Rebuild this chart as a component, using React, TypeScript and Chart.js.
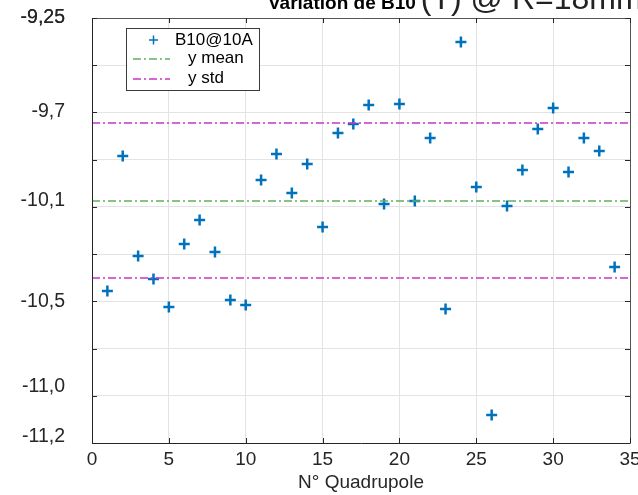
import React, { useEffect, useRef } from "react";
import { Chart, registerables } from "chart.js";

Chart.register(...registerables);

// ---- data ----
const quadrupoles = [1, 2, 3, 4, 5, 6, 7, 8, 9, 10, 11, 12, 13, 14, 15, 16, 17, 18, 19, 20, 21, 22, 23, 24, 25, 26, 27, 28, 29, 30, 31, 32, 33, 34];
const b10Values = [
  -10.503, -9.883, -10.342, -10.448, -10.576, -10.287, -10.177, -10.324, -10.544, -10.567,
  -9.993, -9.874, -10.053, -9.92, -10.209, -9.778, -9.736, -9.649, -10.103, -9.645,
  -10.09, -9.801, -10.585, -9.36, -10.025, -11.072, -10.113, -9.947, -9.759, -9.663,
  -9.957, -9.801, -9.86, -10.392,
];
const yMean = -10.09;
const yStdUpper = -9.732;
const yStdLower = -10.443;

const xMin = 0;
const xMax = 35;
const xTickValues = [0, 5, 10, 15, 20, 25, 30, 35];

const yMin = -11.2;
const yMax = -9.25;
const yGridValues = [-9.25, -9.4667, -9.6833, -9.9, -10.1167, -10.3333, -10.55, -10.7667, -10.9833, -11.2];
const yLabelValues = [-9.25, -9.681, -10.09, -10.553, -10.943, -11.172];
const yLabelTexts = ["-9,25", "-9,7", "-10,1", "-10,5", "-11,0", "-11,2"];

const seriesLabel = "B10@10A";
const meanLabel = "y mean";
const stdLabel = "y std";
const titleBold = "Variation de B10";
const titleNormal = "(T) @ R=18mm";
const xTitle = "N° Quadrupole";

const BLUE = "#0072BD";
const GREEN = "#5fb05f";
const MAGENTA = "#cc33cc";
const FONT = "'Liberation Sans', Arial, Helvetica, sans-serif";
const DASHDOT = [8, 3, 2, 3];

const near = (a: number, b: number) => Math.abs(a - b) < 1e-6;
const isGrid = (v: number) => yGridValues.some((g) => near(g, v));

const framePlugin = {
  id: "frame",
  afterDatasetsDraw(chart: any) {
    const ctx = chart.ctx;
    const { left, right, top, bottom } = chart.chartArea;
    const xs = chart.scales.x;
    const ys = chart.scales.y;
    ctx.save();
    ctx.strokeStyle = "#262626";
    ctx.lineWidth = 1;
    ctx.beginPath();
    ctx.moveTo(Math.round(left) + 0.5, Math.round(top) + 0.5);
    ctx.lineTo(Math.round(left) + 0.5, Math.round(bottom) + 0.5);
    ctx.lineTo(Math.round(right) + 0.5, Math.round(bottom) + 0.5);
    ctx.stroke();
    ctx.strokeStyle = "#555555";
    ctx.beginPath();
    ctx.moveTo(Math.round(left) + 0.5, Math.round(top) + 0.5);
    ctx.lineTo(Math.round(right) + 0.5, Math.round(top) + 0.5);
    ctx.lineTo(Math.round(right) + 0.5, Math.round(bottom) + 0.5);
    ctx.stroke();
    const tl = 5;
    ctx.strokeStyle = "#262626";
    ctx.beginPath();
    xTickValues.forEach((v) => {
      const px = Math.round(xs.getPixelForValue(v)) + 0.5;
      ctx.moveTo(px, bottom);
      ctx.lineTo(px, bottom - tl);
      ctx.moveTo(px, top);
      ctx.lineTo(px, top + tl);
    });
    yGridValues.forEach((v) => {
      const py = Math.round(ys.getPixelForValue(v)) + 0.5;
      ctx.moveTo(left, py);
      ctx.lineTo(left + tl, py);
      ctx.moveTo(right, py);
      ctx.lineTo(right - tl, py);
    });
    ctx.stroke();
    ctx.restore();
  },
  afterDraw(chart: any) {
    const ctx = chart.ctx;
    ctx.save();
    // title
    ctx.fillStyle = "#000000";
    ctx.textBaseline = "alphabetic";
    ctx.textAlign = "left";
    ctx.font = `bold 19px ${FONT}`;
    const tx = 268;
    const ty = 9;
    ctx.fillText(titleBold, tx, ty);
    const bw = ctx.measureText(titleBold).width;
    ctx.font = `32px ${FONT}`;
    ctx.fillStyle = "#222222";
    ctx.fillText(titleNormal, tx + bw + 5, ty);

    // legend
    const lx = 126.5, ly = 28.5, lw = 133, lh = 62;
    ctx.fillStyle = "#ffffff";
    ctx.fillRect(lx, ly, lw, lh);
    ctx.strokeStyle = "#3a3a3a";
    ctx.lineWidth = 1;
    ctx.strokeRect(lx, ly, lw, lh);

    ctx.font = `17px ${FONT}`;
    ctx.fillStyle = "#000000";
    ctx.textBaseline = "middle";
    ctx.strokeStyle = BLUE;
    ctx.lineWidth = 1.5;
    ctx.beginPath();
    ctx.moveTo(149, 40);
    ctx.lineTo(158, 40);
    ctx.moveTo(153.5, 35.5);
    ctx.lineTo(153.5, 44.5);
    ctx.stroke();
    ctx.fillText(seriesLabel, 175, 40);
    ctx.setLineDash(DASHDOT);
    ctx.lineWidth = 1.5;
    ctx.strokeStyle = GREEN;
    ctx.beginPath();
    ctx.moveTo(133, 59);
    ctx.lineTo(170, 59);
    ctx.stroke();
    ctx.fillText(meanLabel, 188, 58);
    ctx.strokeStyle = MAGENTA;
    ctx.beginPath();
    ctx.moveTo(133, 79);
    ctx.lineTo(170, 79);
    ctx.stroke();
    ctx.setLineDash([]);
    ctx.fillText(stdLabel, 188, 78);
    ctx.restore();
  },
};

export default function App() {
  const canvasRef = useRef<HTMLCanvasElement | null>(null);

  useEffect(() => {
    const canvas = canvasRef.current;
    if (!canvas) return;
    const points = quadrupoles.map((q, i) => ({ x: q, y: b10Values[i] }));
    const chart = new Chart(canvas, {
      type: "scatter",
      data: {
        datasets: [
          {
            label: seriesLabel,
            data: points,
            pointStyle: "cross",
            pointRadius: 5.5,
            pointHoverRadius: 5.5,
            pointBorderWidth: 2.5,
            borderColor: BLUE,
            backgroundColor: BLUE,
            showLine: false,
            order: 2,
          } as any,
          {
            label: meanLabel,
            data: [{ x: xMin, y: yMean }, { x: xMax, y: yMean }],
            showLine: true,
            borderColor: GREEN,
            borderWidth: 1.5,
            borderDash: DASHDOT,
            pointRadius: 0,
            order: 1,
          } as any,
          {
            label: stdLabel,
            data: [{ x: xMin, y: yStdUpper }, { x: xMax, y: yStdUpper }],
            showLine: true,
            borderColor: MAGENTA,
            borderWidth: 1.5,
            borderDash: DASHDOT,
            pointRadius: 0,
            order: 1,
          } as any,
          {
            label: stdLabel,
            data: [{ x: xMin, y: yStdLower }, { x: xMax, y: yStdLower }],
            showLine: true,
            borderColor: MAGENTA,
            borderWidth: 1.5,
            borderDash: DASHDOT,
            pointRadius: 0,
            order: 1,
          } as any,
        ],
      },
      options: {
        responsive: false,
        animation: false,
        devicePixelRatio: 1,
        layout: { padding: { top: 18, right: 8, left: 0, bottom: 0 }, autoPadding: false } as any,
        plugins: {
          legend: { display: false },
          title: { display: false },
          tooltip: { enabled: false },
        },
        scales: {
          x: {
            type: "linear",
            min: xMin,
            max: xMax,
            afterBuildTicks: (scale: any) => {
              scale.ticks = xTickValues.map((v) => ({ value: v }));
            },
            afterFit: (scale: any) => {
              scale.height = 52;
              scale.paddingLeft = 0;
              scale.paddingRight = 0;
              scale.paddingTop = 0;
              scale.paddingBottom = 0;
            },
            border: { display: false },
            grid: { color: "#e3e3e3", lineWidth: 1, drawTicks: false },
            ticks: {
              padding: 5,
              color: "#262626",
              font: { family: FONT, size: 19 },
              maxRotation: 0,
              autoSkip: false,
            },
            title: {
              display: true,
              text: xTitle,
              color: "#262626",
              font: { family: FONT, size: 19 },
              padding: { top: 0, bottom: 1 },
            },
          },
          y: {
            type: "linear",
            min: yMin,
            max: yMax,
            afterBuildTicks: (scale: any) => {
              const vals = [...yGridValues, ...yLabelValues];
              scale.ticks = vals.map((v) => ({ value: v }));
            },
            afterFit: (scale: any) => {
              scale.width = 92;
              scale.paddingLeft = 0;
              scale.paddingRight = 0;
              scale.paddingTop = 0;
              scale.paddingBottom = 0;
            },
            border: { display: false },
            grid: {
              drawTicks: false,
              lineWidth: 1,
              color: (c: any) => (c.tick && isGrid(c.tick.value) ? "#e3e3e3" : "rgba(0,0,0,0)"),
            },
            ticks: {
              padding: 27,
              color: "#262626",
              font: { family: FONT, size: 19.5 },
              autoSkip: false,
              callback: (value: any) => {
                const idx = yLabelValues.findIndex((v) => near(v, Number(value)));
                return idx >= 0 ? yLabelTexts[idx] : "";
              },
            },
          },
        },
      },
      plugins: [framePlugin],
    } as any);
    return () => chart.destroy();
  }, []);

  return (
    <div style={{ position: "fixed", left: 0, top: 0, width: 638, height: 495, background: "#ffffff" }}>
      <canvas ref={canvasRef} width={638} height={495} style={{ display: "block", width: 638, height: 495 }} />
    </div>
  );
}
